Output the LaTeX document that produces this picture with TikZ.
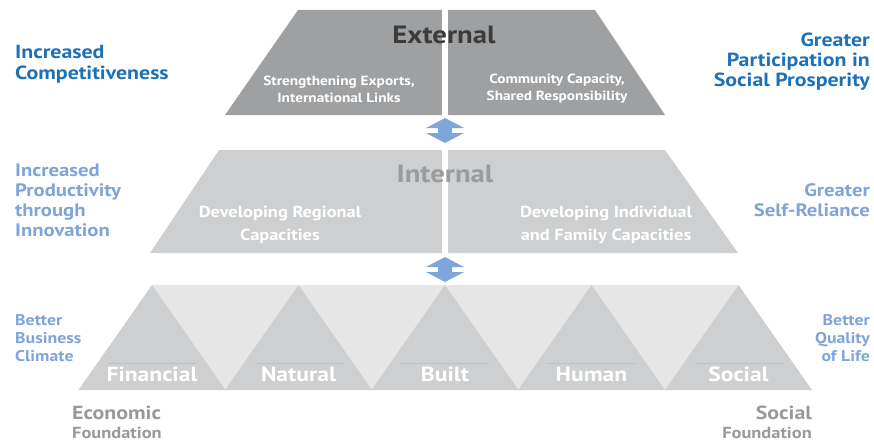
\documentclass[tikz,border=0pt]{standalone}
\usepackage{fontspec}
\setmainfont{PT Sans}[FakeStretch=1.15]
\definecolor{extgray}{HTML}{9FA0A2}
\definecolor{intgray}{HTML}{CDCFD1}
\definecolor{bandgray}{HTML}{E6E6E6}
\definecolor{darktext}{HTML}{3B3B3B}
\definecolor{inttext}{HTML}{9A9B9D}
\definecolor{strongblue}{HTML}{1D71B8}
\definecolor{softblue}{HTML}{7EA4D8}
\definecolor{arrowblue}{HTML}{7FA6DA}
\definecolor{foundgray}{HTML}{999999}
\tikzset{
  sub/.style={text=white,font=\bfseries\fontsize{13.3}{17}\selectfont,align=center},
  capital/.style={text=white,font=\bfseries\fontsize{20.5}{21}\selectfont},
  lefttext/.style={anchor=west,align=left,inner sep=0pt,font=\bfseries\fontsize{18}{20}\selectfont},
  righttext/.style={anchor=east,align=right,inner sep=0pt,font=\bfseries\fontsize{18}{20}\selectfont},
}

\begin{document}
\begin{tikzpicture}[x=1pt,y=-1pt]
	\useasboundingbox (0,0) rectangle (874,441);
	% external level
	\fill[extgray] (298,10) -- (595,10) -- (665,115) -- (225,115) -- cycle;
	% internal level
	\fill[intgray] (219,150) -- (665,150) -- (738,253) -- (150,253) -- cycle;
	% gap between the halves
	\fill[white] (442,8) rectangle (448,255);
	\node[font=\bfseries\fontsize{25}{25}\selectfont,text=darktext] (ext) at (444,35) {External};
	\node[font=\bfseries\fontsize{25}{25}\selectfont,text=inttext] (int) at (445,174) {Internal};
	\node[sub] (exports) at (339,89) {Strengthening Exports,\\International Links};
	\node[sub] (community) at (557,89) {Community Capacity,\\Shared Responsibility};
	\node[sub,font=\bfseries\fontsize{16}{23}\selectfont] (regional) at (280,225) {Developing Regional\\Capacities};
	\node[sub,font=\bfseries\fontsize{16}{23}\selectfont] (individual) at (606,225) {Developing Individual\\and Family Capacities};
	% arrows
	\foreach \t/\b in {118/143, 257/282}{
		\fill[arrowblue] (445,\t) -- (464,\t+10) -- (452,\t+10) -- (452,\b-10) -- (464,\b-10)
			-- (445,\b) -- (426,\b-10) -- (438,\b-10) -- (438,\t+10) -- (426,\t+10) -- cycle;
	}
	% foundation of capitals
	\fill[bandgray] (152,285) rectangle (739,390);
	\foreach \c/\lab/\nm in {152/Financial/fin, 298.5/Natural/nat, 445/Built/blt, 591.5/Human/hum, 738.5/Social/soc}{
		\fill[intgray] (\c-73.5,390) -- (\c,285) -- (\c+73.5,390) -- cycle;
		\draw[black!25,line width=0.6pt] (\c-44,363) -- (\c+44,363);
		\node[capital] (\nm) at (\c,374) {\lab};
	}
	% side texts
	\node[lefttext,text=strongblue,font=\bfseries\fontsize{19}{21}\selectfont] (compet) at (15,64) {Increased\\Competitiveness};
	\node[righttext,text=strongblue,font=\bfseries\fontsize{19}{20}\selectfont] (prosper) at (870,62) {Greater\\Participation in\\Social Prosperity};
	\node[lefttext,text=softblue] (innov) at (15,200) {Increased\\Productivity\\through\\Innovation};
	\node[righttext,text=softblue] (selfrel) at (870,200) {Greater\\Self-Reliance};
	\node[lefttext,text=softblue,font=\bfseries\fontsize{15.5}{18}\selectfont] (climate) at (15,338) {Better\\Business\\Climate};
	\node[righttext,text=softblue,font=\bfseries\fontsize{15.5}{18}\selectfont] (quality) at (870,338) {Better\\Quality\\of Life};
	\node[anchor=base west,text=foundgray,inner sep=0pt,font=\bfseries\fontsize{19}{19}\selectfont] (econ) at (72,419) {Economic};
	\node[anchor=base west,text=foundgray,inner sep=0pt,font=\bfseries\fontsize{16}{16}\selectfont] (econf) at (72,438) {Foundation};
	\node[anchor=base east,text=foundgray,inner sep=0pt,font=\bfseries\fontsize{19}{19}\selectfont] (soci) at (812,419) {Social};
	\node[anchor=base east,text=foundgray,inner sep=0pt,font=\bfseries\fontsize{16}{16}\selectfont] (socif) at (812,438) {Foundation};
\end{tikzpicture}
\end{document}
